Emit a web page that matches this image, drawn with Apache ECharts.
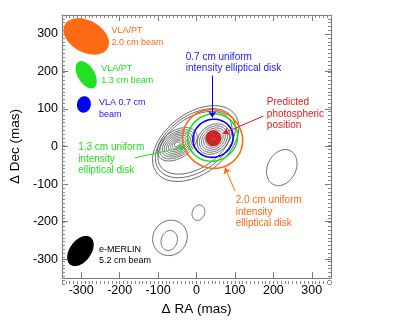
<!DOCTYPE html>
<html><head><meta charset="utf-8">
<script src="https://cdn.jsdelivr.net/npm/echarts@6/dist/echarts.min.js"></script>
<style>html,body{margin:0;padding:0;background:#fff}#c{width:394px;height:321px}</style>
</head><body><div id="c"></div>
<script>
// ---- data (mas) ----
const MAJOR_TICKS = [-300,-200,-100,0,100,200,300];
// contours: [centerRA, centerDec, semiMajor, semiMinor, angleDeg]
const COMMON_CONTOURS = [[-2,8,128,80,38],[-3,9,118,73,37],[-4,10,109,66,36]];
const LEFT_PEAK_CONTOURS = [[-50,6,58,36,35],[-50,6,51,31,35],[-50,6,44,27,35],[-50,6,38,23,35],[-50,6,32,19,35],[-50,6,26,15,35],[-50,6,20,11,35],[-50,6,14,8,35],[-50,6,8,5,35]];
const RIGHT_PEAK_CONTOURS = [[44,20,46,36,40],[44,20,40,31,40],[44,20,34,26,40],[44,20,28,21,40],[44,20,22,16,40],[44,20,16,12,40],[44,20,10,7,40]];
const OTHER_CONTOURS = [[-69,-243,48,44,60],[-71,-250,27,21,75],[5,-176,21,16,70],[222,-56,50,37,65]];
const BEAMS = [[-287,293,64,42,-30],[-287,191,40,22,-60],[-293,112,22,18,80],[-302,-278,45,28,55]];
const BEAM_COLORS = ['#ff6a14','#22e022','#0000f0','#000000'];
const DISKS = [[42,20,80,76,-45],[42,24,66,62,30],[43,22,53,50,30]];
const DISK_COLORS = ['#ff6a14','#22dd22','#0000ee'];
const STAR = [[44,22]];
// arrows: [fromRA, fromDec, toRA, toDec]
const ARROWS = [[41,189,41,77],[174,81,69,35],[-160,-30,-30,-1],[100,-118,74,-56]];
const ARROW_COLORS = ['#0000ee','#dd2020','#22dd22','#ff6a14'];
// labels: top-left anchor [RA, Dec]
const LABEL_TEXT = ['VLA/PT\n2.0 cm beam','VLA/PT\n1.3 cm beam','VLA 0.7 cm\nbeam','e-MERLIN\n5.2 cm beam',
  '0.7 cm uniform\nintensity elliptical disk','Predicted\nphotospheric\nposition','1.3 cm uniform\nintensity\nelliptical disk','2.0 cm uniform\nintensity\nelliptical disk'];
const LABEL_POS = [[-221,325],[-248,224],[-254,134],[-254,-260],[-28,253],[183,133],[-308,14],[102,-127]];
const LABEL_COLOR = ['#ff6a14','#22dd22','#2020ff','#000000','#2020ff','#dd2020','#22dd22','#ff6a14'];
const LABEL_SIZE = [9,9,9,9,10,10,10,10];
const LABEL_LH = [12,12,12,11,11.5,11.5,11.7,11.7];

const FONT = '"Liberation Sans", Arial, Helvetica, sans-serif';

function ellipseRender(fillFn, strokeFn, lw) {
  return function (params, api) {
    const cx = api.value(0), cy = api.value(1), a = api.value(2), b = api.value(3), ang = api.value(4) * Math.PI / 180;
    const pts = [];
    for (let k = 0; k < 90; k++) {
      const t = k / 90 * 2 * Math.PI;
      const x = cx + a * Math.cos(t) * Math.cos(ang) - b * Math.sin(t) * Math.sin(ang);
      const y = cy + a * Math.cos(t) * Math.sin(ang) + b * Math.sin(t) * Math.cos(ang);
      pts.push(api.coord([x, y]));
    }
    return { type: 'polygon', shape: { points: pts },
      style: { fill: fillFn(params.dataIndex), stroke: strokeFn(params.dataIndex), lineWidth: lw } };
  };
}

const contourAll = COMMON_CONTOURS.concat(LEFT_PEAK_CONTOURS, RIGHT_PEAK_CONTOURS, OTHER_CONTOURS);

const gridRect = { left: 62, right: 63, top: 15, bottom: 37 };
function mkX(grid, pos, major, showLabel, name) {
  const ax = { type: 'value', gridIndex: grid, position: pos, min: -350, max: 350,
    axisLine: { show: major, onZero: false, lineStyle: { color: '#777', width: 1 } },
    splitLine: { show: false },
    axisTick: major ? { show: true, inside: true, length: 6, customValues: MAJOR_TICKS, lineStyle: { color: '#777' } }
                    : { show: true, inside: true, length: 3, lineStyle: { color: '#888' } },
    axisLabel: showLabel ? { show: true, customValues: MAJOR_TICKS, color: '#000', fontSize: 12.5, fontFamily: FONT, margin: 6 } : { show: false }
  };
  if (!major) ax.interval = 10;
  if (name) { ax.name = name; ax.nameLocation = 'middle'; ax.nameGap = 21; ax.nameTextStyle = { color: '#000', fontSize: 13.5, fontFamily: FONT }; }
  return ax;
}
function mkY(grid, pos, major, showLabel, name) {
  const ax = mkX(grid, pos, major, showLabel, null);
  if (showLabel) ax.axisLabel.margin = 4;
  if (name) { ax.name = name; ax.nameLocation = 'middle'; ax.nameGap = 37; ax.nameTextStyle = { color: '#000', fontSize: 13.5, fontFamily: FONT }; }
  return ax;
}

const option = {
  animation: false,
  backgroundColor: '#fff',
  grid: [Object.assign({}, gridRect), Object.assign({}, gridRect)],
  xAxis: [mkX(0, 'bottom', true, true, 'Δ RA (mas)'), mkX(0, 'top', true, false), mkX(1, 'bottom', false, false), mkX(1, 'top', false, false)],
  yAxis: [mkY(0, 'left', true, true, 'Δ Dec (mas)'), mkY(0, 'right', true, false), mkY(1, 'left', false, false), mkY(1, 'right', false, false)],
  series: [
    { type: 'custom', xAxisIndex: 0, yAxisIndex: 0, data: contourAll, clip: true, silent: true, z: 2,
      renderItem: ellipseRender(() => 'none', () => '#444', 0.8) },
    { type: 'custom', xAxisIndex: 0, yAxisIndex: 0, data: BEAMS, clip: true, silent: true, z: 3,
      renderItem: ellipseRender(i => BEAM_COLORS[i], () => 'none', 0) },
    { type: 'custom', xAxisIndex: 0, yAxisIndex: 0, data: DISKS, clip: true, silent: true, z: 4,
      renderItem: ellipseRender(() => 'none', i => DISK_COLORS[i], 1.6) },
    { type: 'scatter', xAxisIndex: 0, yAxisIndex: 0, data: STAR, symbol: 'circle', symbolSize: 16, silent: true, z: 5,
      itemStyle: { color: '#cc0000' } },
    { type: 'lines', coordinateSystem: 'cartesian2d', xAxisIndex: 0, yAxisIndex: 0, silent: true, z: 6,
      symbol: ['none', 'arrow'], symbolSize: [0, 6],
      data: ARROWS.map((a, i) => ({ coords: [[a[0], a[1]], [a[2], a[3]]], lineStyle: { color: ARROW_COLORS[i], width: 1, opacity: 1 } })) },
    { type: 'custom', xAxisIndex: 0, yAxisIndex: 0, data: LABEL_POS, silent: true, z: 7,
      renderItem: function (params, api) {
        const i = params.dataIndex;
        const p = api.coord([api.value(0), api.value(1)]);
        return { type: 'text', x: p[0], y: p[1],
          style: { text: LABEL_TEXT[i], fill: LABEL_COLOR[i], fontSize: LABEL_SIZE[i], fontFamily: FONT,
                   lineHeight: LABEL_LH[i], align: 'left', verticalAlign: 'top' } };
      } }
  ]
};
const chart = echarts.init(document.getElementById('c'), null, { renderer: 'canvas' });
chart.setOption(option);
</script></body></html>
